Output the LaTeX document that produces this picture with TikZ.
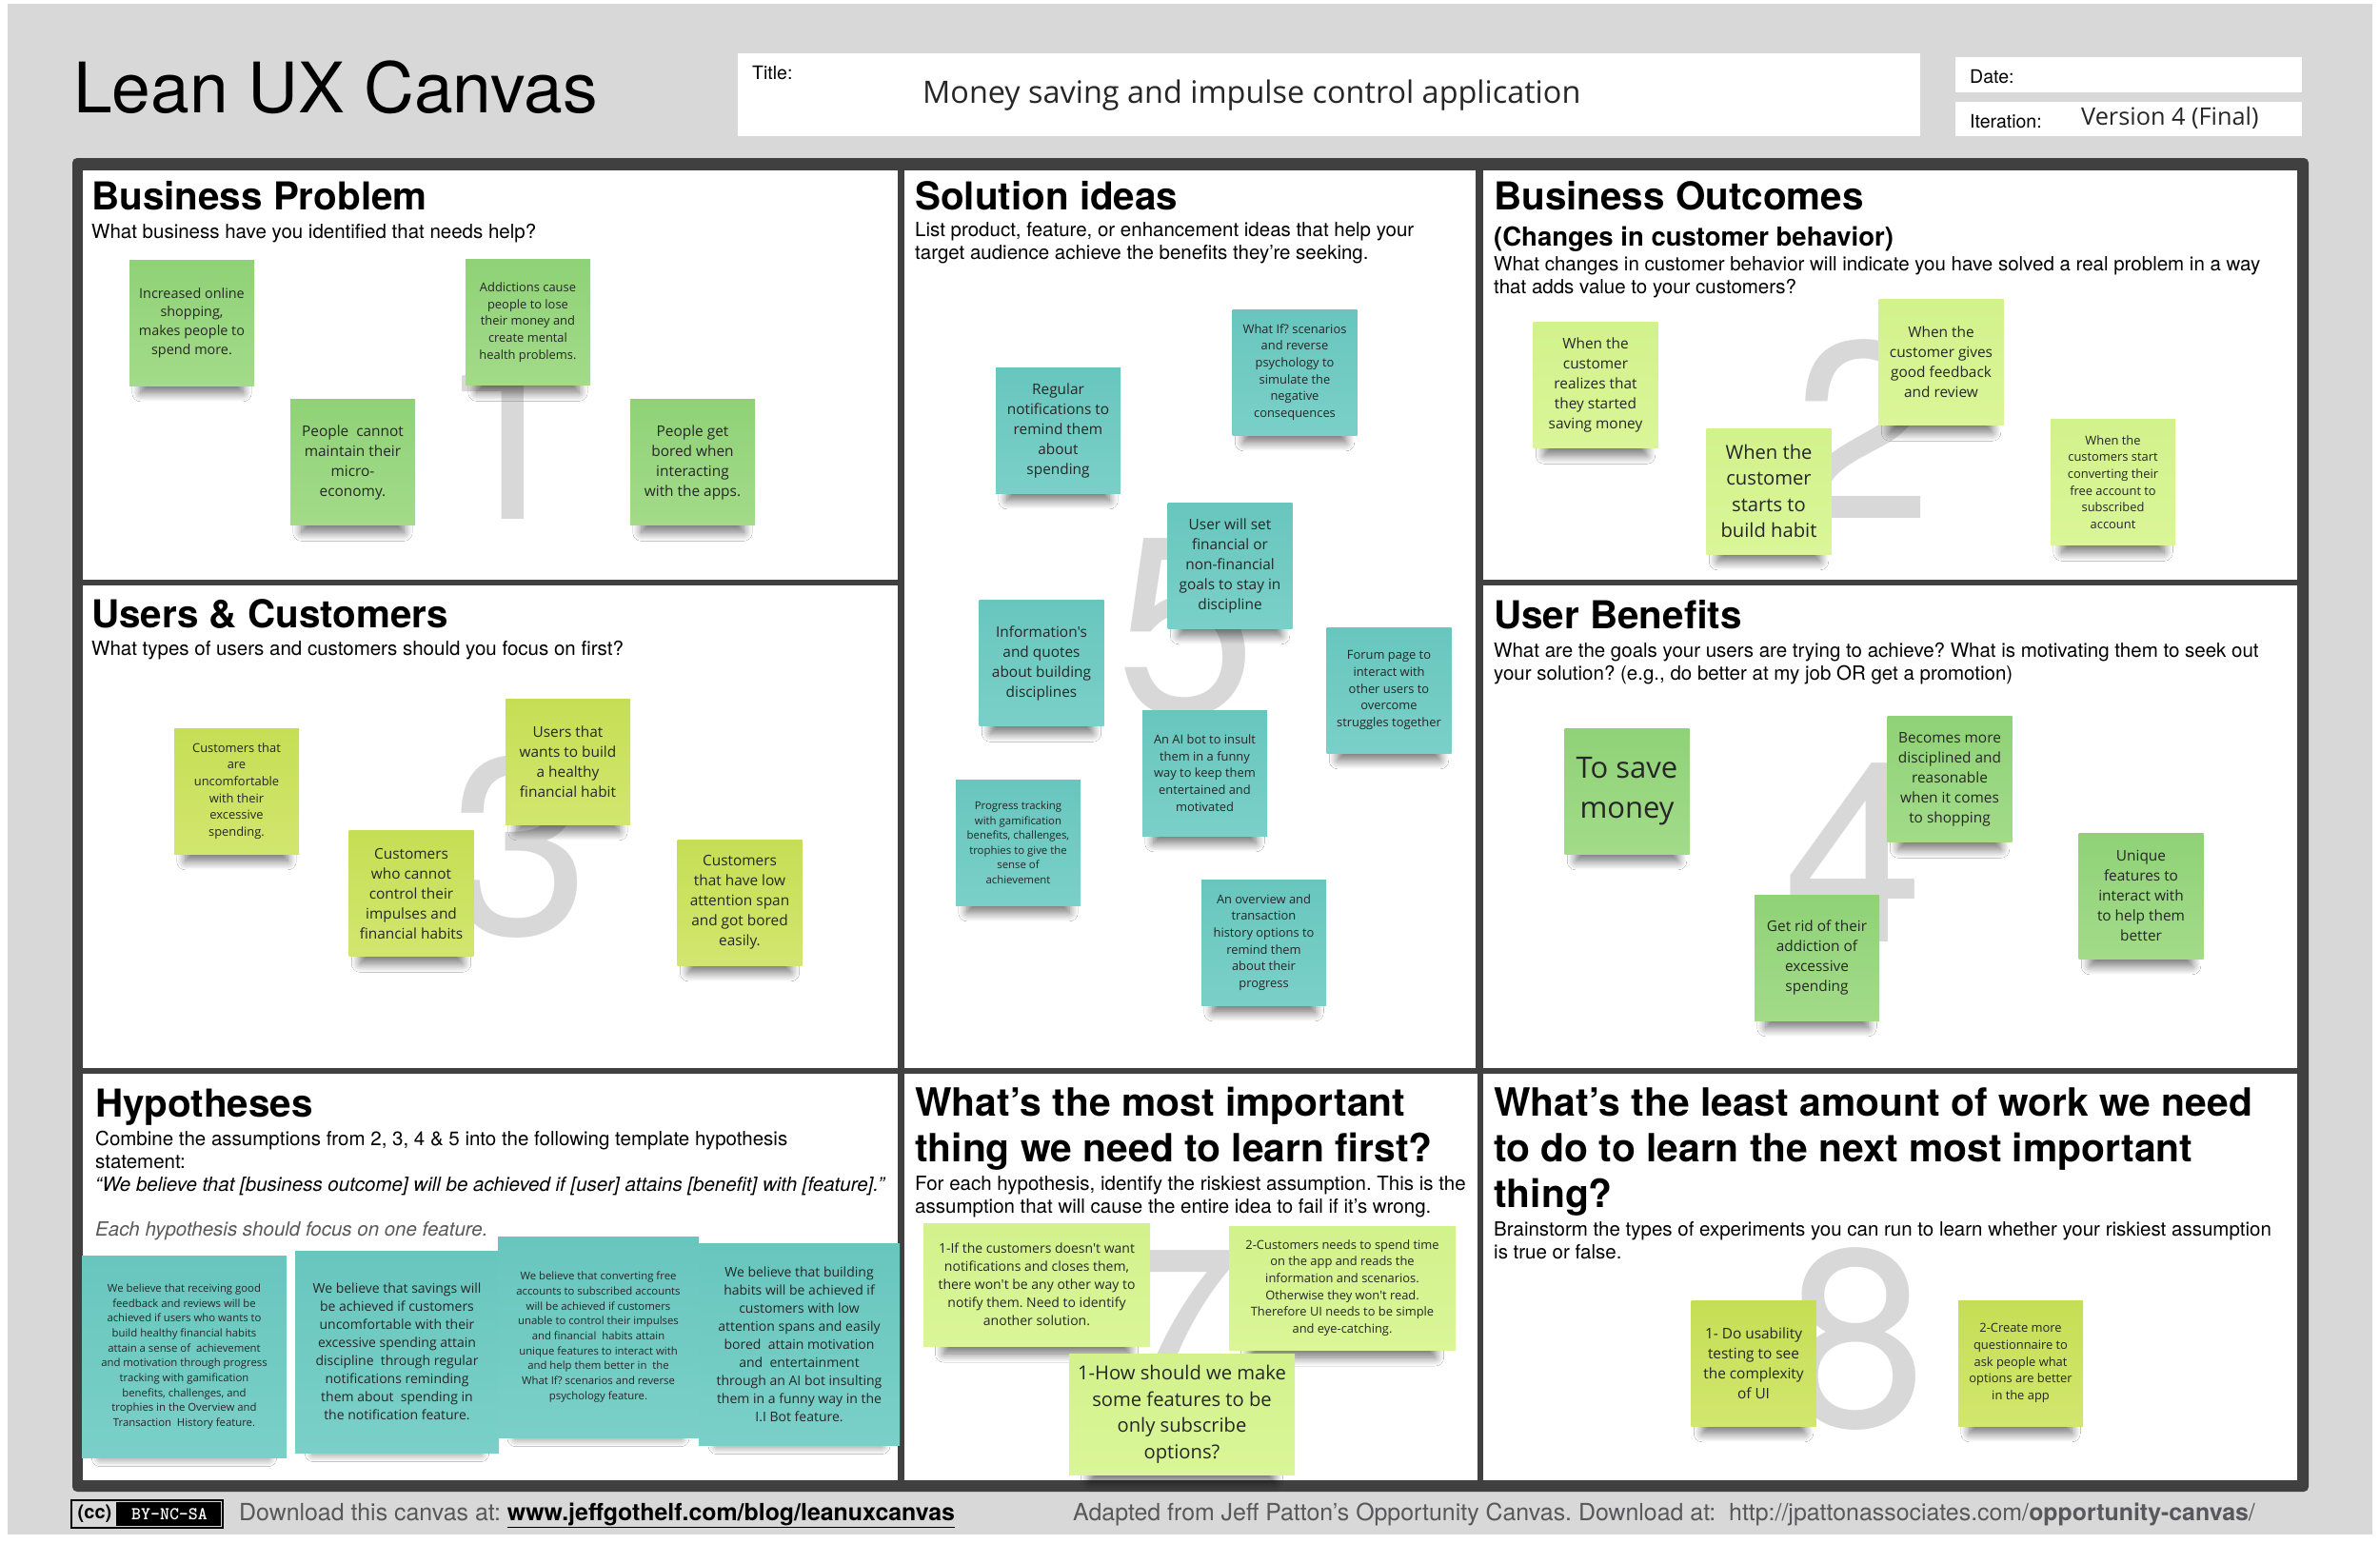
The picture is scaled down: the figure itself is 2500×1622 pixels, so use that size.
\documentclass[tikz,border=0pt]{standalone}
\usepackage{fontspec}
\setmainfont{TeX Gyre Heros}
\newfontfamily\notefont{Open Sans}
\usepackage{tikz}
\usetikzlibrary{shadows.blur}
\frenchspacing
\definecolor{canvasgray}{HTML}{D8D8D8}
\definecolor{framedark}{HTML}{404040}
\definecolor{footgray}{HTML}{58585A}
\definecolor{greentop}{HTML}{8FD277}
\definecolor{greenbot}{HTML}{A3DB89}
\definecolor{tealtop}{HTML}{68C6BE}
\definecolor{tealbot}{HTML}{7AD0C8}
\definecolor{palemtop}{HTML}{D2F28C}
\definecolor{palembot}{HTML}{DAF698}
\definecolor{limetop}{HTML}{C6DE55}
\definecolor{limebot}{HTML}{D2E66E}
\tikzset{%
	panel/.style = { fill=white },
	heading/.style = { anchor=base west, inner sep=0pt, align=left, font=\fontsize{40.4}{48}\selectfont\bfseries },
	bighead/.style = { heading, font=\fontsize{40.8}{48}\selectfont\bfseries },
	prompt/.style = { anchor=base west, inner sep=0pt, align=left, font=\fontsize{20.5}{24}\selectfont },
	bignum/.style = { anchor=base, inner sep=0pt, text=canvasgray, font=\fontsize{265}{265}\selectfont },
	field/.style = { anchor=base west, inner sep=0pt, font=\fontsize{19.5}{24}\selectfont },
	foot/.style = { anchor=base west, inner sep=0pt, text=footgray, font=\fontsize{24.9}{28}\selectfont },
	sticky/.style = { rectangle, inner sep=0pt, align=center, minimum width=131pt, minimum height=132pt, text=black!85,
		blur shadow={shadow xshift=0pt, shadow yshift=-24pt, shadow scale=0.82, shadow opacity=55, shadow blur steps=14, shadow blur radius=11pt} },
	greennote/.style = { sticky, top color=greentop, bottom color=greenbot },
	tealnote/.style = { sticky, top color=tealtop, bottom color=tealbot },
	palenote/.style = { sticky, top color=palemtop, bottom color=palembot },
	limenote/.style = { sticky, top color=limetop, bottom color=limebot },
	txtxs/.style = { font=\notefont\fontsize{11.4}{15.5}\selectfont },
	txthyp/.style = { font=\notefont\fontsize{11.35}{15.7}\selectfont },
	txts/.style = { font=\notefont\fontsize{12.9}{17.6}\selectfont },
	txthypm/.style = { font=\notefont\fontsize{14}{19}\selectfont },
	txtms/.style = { font=\notefont\fontsize{14.4}{19.6}\selectfont },
	txtm/.style = { font=\notefont\fontsize{15.4}{21}\selectfont },
	txtl/.style = { font=\notefont\fontsize{20.2}{27.5}\selectfont },
	txtxl/.style = { font=\notefont\fontsize{31}{42}\selectfont }
}

\begin{document}
\begin{tikzpicture}[x=1pt, y=-1pt]
	\useasboundingbox (0,0) rectangle (2500,1622);
	% page and frame
	\fill[canvasgray] (8,4) rectangle (2492,1612);
	\fill[framedark, rounded corners=5pt] (76,166) rectangle (2425,1567);
	\fill[panel] (87,179) rectangle (943,609);
	\fill[panel] (87,615) rectangle (943,1122);
	\fill[panel] (87,1128) rectangle (943,1555);
	\fill[panel] (950,179) rectangle (1550,1122);
	\fill[panel] (950,1128) rectangle (1552,1555);
	\fill[panel] (1558,179) rectangle (2413,609);
	\fill[panel] (1558,615) rectangle (2413,1122);
	\fill[panel] (1558,1128) rectangle (2413,1555);

	% header
	\node[anchor=base west, inner sep=0pt, font=\fontsize{73.2}{80}\selectfont] (canvastitle) at (77,118) {Lean UX Canvas};
	\fill[white] (775,56) rectangle (2017,143);
	\fill[white] (2054,60) rectangle (2418,97);
	\fill[white] (2054,107) rectangle (2418,143);
	\node[field] (titlelabel) at (790,83) {Title:};
	\node[anchor=base west, inner sep=0pt, font=\notefont\fontsize{32.4}{40}\selectfont, text=black!85] (titletext) at (969,108) {Money saving and impulse control application};
	\node[field] (datelabel) at (2069,87) {Date:};
	\node[field] (iterlabel) at (2069,134) {Iteration:};
	\node[anchor=base west, inner sep=0pt, font=\notefont\fontsize{25.3}{30}\selectfont, text=black!85] (itertext) at (2186,131) {Version 4 (Final)};

	% big numbers behind the stickies
	\node[bignum] (num1) at (532,545) {1};
	\node[bignum] (num2) at (1957,544) {2};
	\node[bignum] (num3) at (546,981) {3};
	\node[bignum] (num4) at (1947,989) {4};
	\node[bignum] (num5) at (1246,749) {5};
	\node[bignum] (num7) at (1228,1497) {7};
	\node[bignum] (num8) at (1950,1498) {8};

	% 1. business problem
	\node[heading] (problemhead) at (96,220) {Business Problem};
	\node[prompt] (problemtext) at (96,250) {What business have you identified that needs help?};
	\node[greennote, txtms] (problemA) at (201.5,339) {Increased online\\shopping,\\makes people to\\spend more.};
	\node[greennote, txts] (problemB) at (554.5,338.5) {Addictions cause\\people to lose\\their money and\\create mental\\health problems.};
	\node[greennote, txtm] (problemC) at (370.5,485.5) {People\ \ cannot\\maintain their\\micro-\\economy.};
	\node[greennote, txtm] (problemD) at (727.5,485.5) {People get\\bored when\\interacting\\with the apps.};

	% 2. business outcomes
	\node[heading] (outcomehead) at (1569,220) {Business Outcomes};
	\node[anchor=base west, inner sep=0pt, font=\fontsize{27.5}{32}\selectfont\bfseries] (outcomesub) at (1569,258) {(Changes in customer behavior)};
	\node[prompt] (outcometext) at (1569,308) {What changes in customer behavior will indicate you have solved a real problem in a way\\that adds value to your customers?};
	\node[palenote, txtm] (outcomeA) at (1676,404.5) {When the\\customer\\realizes that\\they started\\saving money};
	\node[palenote, txtm] (outcomeB) at (2039,380.5) {When the\\customer gives\\good feedback\\and review};
	\node[palenote, txtl] (outcomeC) at (1858,516) {When the\\customer\\starts to\\build habit};
	\node[palenote, txts] (outcomeD) at (2219.5,506.5) {When the\\customers start\\converting their\\free account to\\subscribed\\account};

	% 3. users and customers
	\node[heading] (userhead) at (96,659) {Users \& Customers};
	\node[prompt] (usertext) at (96,688) {What types of users and customers should you focus on first?};
	\node[limenote, txts] (userA) at (248.5,831) {Customers that\\are\\uncomfortable\\with their\\excessive\\spending.};
	\node[limenote, txtm] (userB) at (596.5,800) {Users that\\wants to build\\a healthy\\financial habit};
	\node[limenote, txtm] (userC) at (432,938.5) {Customers\\who cannot\\control their\\impulses and\\financial habits};
	\node[limenote, txtm] (userD) at (777,948) {Customers\\that have low\\attention span\\and got bored\\easily.};

	% 4. user benefits
	\node[heading] (benefithead) at (1569,660) {User Benefits};
	\node[prompt] (benefittext) at (1569,714) {What are the goals your users are trying to achieve? What is motivating them to seek out\\your solution? (e.g., do better at my job OR get a promotion)};
	\node[greennote, txtxl] (benefitA) at (1709,831) {To save\\money};
	\node[greennote, txtm] (benefitB) at (2048,818.5) {Becomes more\\disciplined and\\reasonable\\when it comes\\to shopping};
	\node[greennote, txtm] (benefitC) at (1908.5,1006) {Get rid of their\\addiction of\\excessive\\spending};
	\node[greennote, txtm] (benefitD) at (2249,941) {Unique\\features to\\interact with\\to help them\\better};

	% 5. solution ideas
	\node[heading] (solutionhead) at (961,220) {Solution ideas};
	\node[prompt] (solutiontext) at (961,272) {List product, feature, or enhancement ideas that help your\\target audience achieve the benefits they’re seeking.};
	\node[tealnote, txtm] (solutionA) at (1111.5,452) {Regular\\notifications to\\remind them\\about\\spending};
	\node[tealnote, txts] (solutionB) at (1360,391) {What If? scenarios\\and reverse\\psychology to\\simulate the\\negative\\consequences};
	\node[tealnote, txtm] (solutionC) at (1292,594) {User will set\\financial or\\non-financial\\goals to stay in\\discipline};
	\node[tealnote, txtm] (solutionD) at (1094,696.5) {Information's\\and quotes\\about building\\disciplines};
	\node[tealnote, txts] (solutionE) at (1459,725) {Forum page to\\interact with\\other users to\\overcome\\struggles together};
	\node[tealnote, txts] (solutionF) at (1265.5,812) {An AI bot to insult\\them in a funny\\way to keep them\\entertained and\\motivated};
	\node[tealnote, txtxs] (solutionG) at (1069.5,885) {Progress tracking\\with gamification\\benefits, challenges,\\trophies to give the\\sense of\\achievement};
	\node[tealnote, txts] (solutionH) at (1327.5,990) {An overview and\\transaction\\history options to\\remind them\\about their\\progress};

	% 6. hypotheses
	\node[heading] (hypohead) at (100,1173) {Hypotheses};
	\node[prompt] (hypotext) at (100,1251) {Combine the assumptions from 2, 3, 4 \& 5 into the following template hypothesis\\statement:\\\textit{“We believe that [business outcome] will be achieved if [user] attains [benefit] with [feature].”}};
	\node[prompt, text=footgray] (hypofocus) at (100,1298) {\textit{Each hypothesis should focus on one feature.}};
	\node[tealnote, txthyp, minimum width=215pt, minimum height=212pt] (hypoA) at (193.5,1425) {We believe that receiving good\\feedback and reviews will be\\achieved if users who wants to\\build healthy financial habits\\attain a sense of\ \ achievement\\and motivation through progress\\tracking with gamification\\benefits, challenges, and\\trophies in the Overview and\\Transaction\ \ History feature.};
	\node[tealnote, txthypm, minimum width=214pt, minimum height=212pt] (hypoB) at (417,1420) {We believe that savings will\\be achieved if customers\\uncomfortable with their\\excessive spending attain\\discipline\ \ through regular\\notifications reminding\\them about\ \ spending in\\the notification feature.};
	\node[tealnote, txthyp, minimum width=211pt, minimum height=211pt] (hypoC) at (628.5,1404.5) {We believe that converting free\\accounts to subscribed accounts\\will be achieved if customers\\unable to control their impulses\\and financial\ \ habits attain\\unique features to interact with\\and help them better in\ \ the\\What If? scenarios and reverse\\psychology feature.};
	\node[tealnote, txthypm, minimum width=211pt, minimum height=212pt] (hypoD) at (839.5,1412) {We believe that building\\habits will be achieved if\\customers with low\\attention spans and easily\\bored\ \ attain motivation\\and\ \ entertainment\\through an AI bot insulting\\them in a funny way in the\\I.I Bot feature.};

	% 7. most important thing to learn
	\node[bighead] (learnhead) at (961,1220) {What’s the most important\\thing we need to learn first?};
	\node[prompt] (learntext) at (961,1274) {For each hypothesis, identify the riskiest assumption. This is the\\assumption that will cause the entire idea to fail if it’s wrong.};
	\node[palenote, txthypm, minimum width=238pt, minimum height=129pt] (learnA) at (1089,1349.5) {1-If the customers doesn't want\\notifications and closes them,\\there won't be any other way to\\notify them. Need to identify\\another solution.};
	\node[palenote, txts, minimum width=238pt, minimum height=130pt] (learnB) at (1410,1353) {2-Customers needs to spend time\\on the app and reads the\\information and scenarios.\\Otherwise they won't read.\\Therefore UI needs to be simple\\and eye-catching.};
	\node[palenote, txtl, minimum width=237pt, minimum height=127pt] (learnC) at (1241.5,1485.5) {1-How should we make\\some features to be\\only subscribe\\options?};

	% 8. least amount of work
	\node[bighead] (workhead) at (1569,1268) {What’s the least amount of work we need\\to do to learn the next most important\\thing?};
	\node[prompt] (worktext) at (1569,1322) {Brainstorm the types of experiments you can run to learn whether your riskiest assumption\\is true or false.};
	\node[limenote, txtm] (workA) at (1842,1432) {1- Do usability\\testing to see\\the complexity\\of UI};
	\node[limenote, txts] (workB) at (2122.5,1432) {2-Create more\\questionnaire to\\ask people what\\options are better\\in the app};

	% footer
	\fill[black] (74,1575) rectangle (235,1606);
	\fill[canvasgray] (76,1577) rectangle (233,1604);
	\fill[black] (122,1578) rectangle (232,1603);
	\node[inner sep=0pt, font=\fontsize{20}{24}\selectfont\bfseries] (ccmark) at (99.5,1590) {(cc)};
	\node[inner sep=0pt, text=white, font=\ttfamily\bfseries\fontsize{19}{24}\selectfont] (cclicence) at (178,1590.5) {BY-NC-SA};
	\node[foot] (footleft) at (251,1597) {Download this canvas at: \textcolor{black}{\textbf{\underline{www.jeffgothelf.com/blog/leanuxcanvas}}}};
	\node[foot] (footright) at (1127,1597) {Adapted from Jeff Patton’s Opportunity Canvas. Download at:\ \ http://jpattonassociates.com/\textbf{opportunity-canvas}/};
\end{tikzpicture}
\end{document}
